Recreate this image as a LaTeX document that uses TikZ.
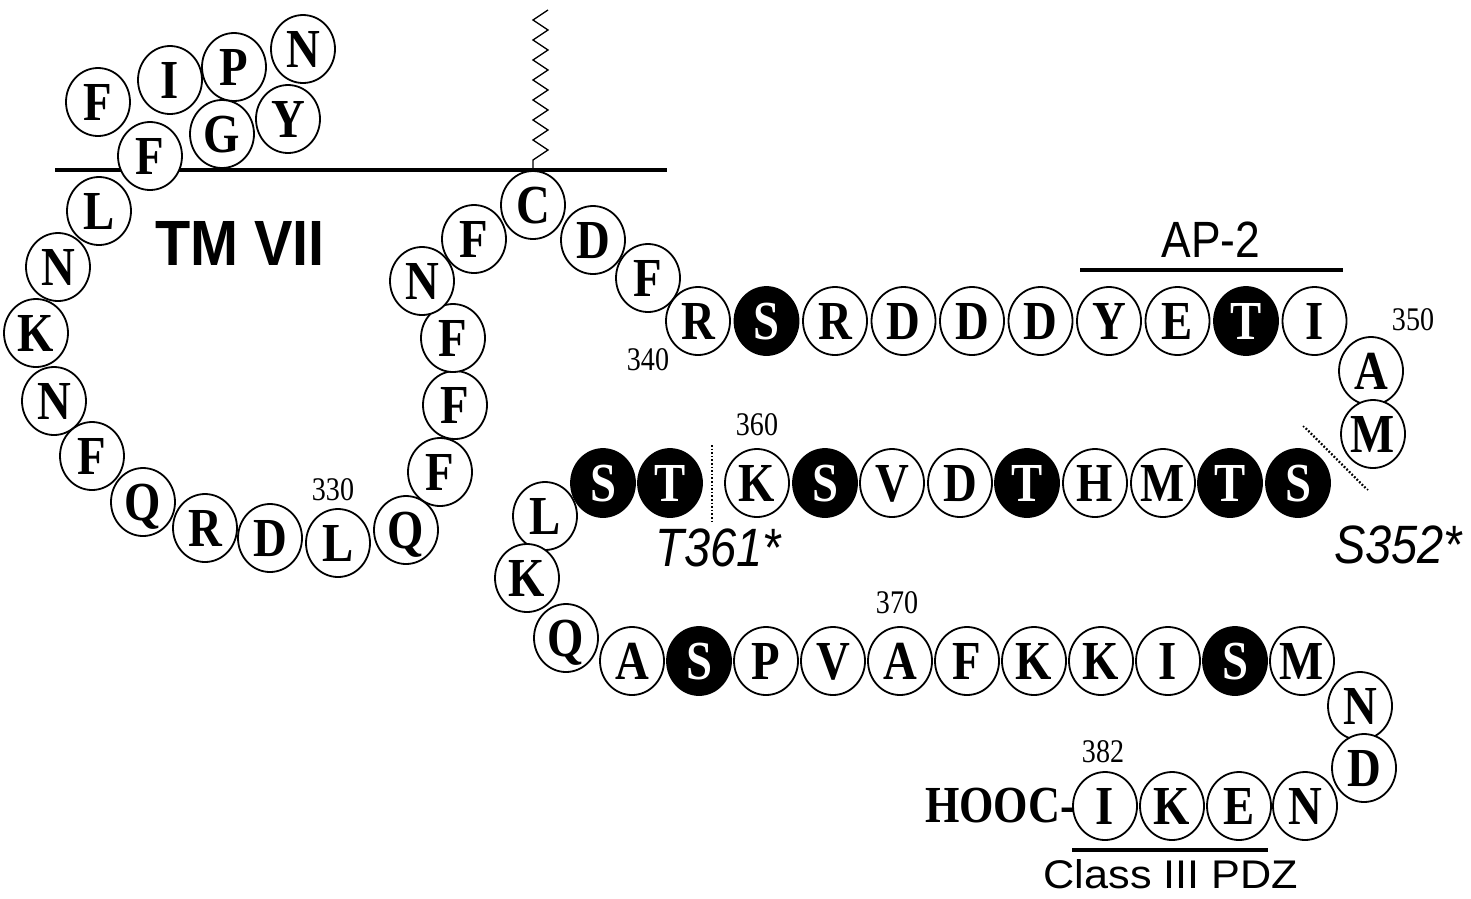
\documentclass[tikz,border=0pt]{standalone}
\usepackage{fontspec}
\usetikzlibrary{shapes.geometric}
\newfontfamily\aafont[FakeStretch=0.85]{Liberation Serif}
\newfontfamily\numfont[FakeStretch=0.85]{Liberation Serif}
\newfontfamily\labfont[FakeStretch=0.87]{Liberation Sans}
\newfontfamily\pdzfont[FakeStretch=1.08]{Liberation Sans}
\newfontfamily\tmfont[FakeStretch=0.9]{Liberation Sans}
\tikzset{
  aa/.style={ellipse, draw, line width=1.8pt, fill=white, minimum width=64pt, minimum height=68pt,
    inner sep=0pt, text height=36pt, text depth=0pt, font=\aafont\bfseries\fontsize{55}{55}\selectfont},
  ph/.style={aa, fill=black, text=white},
  num/.style={inner sep=0pt, font=\numfont\fontsize{33}{33}\selectfont},
  lab/.style={inner sep=0pt, font=\labfont\fontsize{51}{51}\selectfont},
  ilab/.style={lab, font=\labfont\itshape\fontsize{54}{54}\selectfont},
  bar/.style={line width=4pt},
  memb/.style={line width=3.5pt},
  dots/.style={line width=1.6pt, dotted},
}
\begin{document}
\begin{tikzpicture}[x=1pt,y=-1pt]
\useasboundingbox (0,0) rectangle (1471,898);
% membrane line
\coordinate (mA) at (55,170);
\coordinate (mB) at (667,170);
\draw[memb] (mA) -- (mB);
% top cluster
\node[aa] (f1) at (98,102) {F};
\node[aa] (i1) at (170,80) {I};
\node[aa] (p1) at (234,67) {P};
\node[aa] (n1) at (303,49) {N};
\node[aa] (y1) at (288,119) {Y};
\node[aa] (g1) at (222,134) {G};
\node[aa] (f2) at (150,156) {F};
% left loop
\node[aa] (l1) at (99,211) {L};
\node[aa] (n2) at (58,267) {N};
\node[aa] (k1) at (36,333) {K};
\node[aa] (n3) at (54,401) {N};
\node[aa] (f3) at (92,456) {F};
\node[aa] (q1) at (143,502) {Q};
\node[aa] (r1) at (205,528) {R};
\node[aa] (d1) at (270,538) {D};
\node[aa] (l2) at (338,543) {L};
\node[aa] (q2) at (406,530) {Q};
\node[aa] (f4) at (440,472) {F};
\node[aa] (f5) at (455,405) {F};
\node[aa] (f6) at (453,338) {F};
\node[aa] (n4) at (422,281) {N};
\node[aa] (f7) at (474,239) {F};
\node[aa] (c1) at (533,205) {C};
\node[aa] (d2) at (593,240) {D};
\node[aa] (f8) at (648,278) {F};
% palmitoylation zigzag
\draw[line width=1.3pt] (c1.north) -- (533,160)
  \foreach \i in {1,...,15}{ -- ({533+15*mod(\i,2)},{160-10*\i}) };
% row 1
\node[aa] (r2) at (698,321) {R};
\node[ph] (s1) at (766.5,321) {S};
\node[aa] (r3) at (835,321) {R};
\node[aa] (d3) at (903.5,321) {D};
\node[aa] (d4) at (972,321) {D};
\node[aa] (d5) at (1040.5,321) {D};
\node[aa] (y2) at (1109,321) {Y};
\node[aa] (e1) at (1177.5,321) {E};
\node[ph] (t1) at (1246,321) {T};
\node[aa] (i2) at (1314.5,321) {I};
\node[aa] (a1) at (1371,371) {A};
\node[aa] (m1) at (1373,434) {M};
% row 2
\node[ph] (s2) at (603,483) {S};
\node[ph] (t2) at (670,483) {T};
\node[aa] (k2) at (757,483) {K};
\node[ph] (s3) at (825,483) {S};
\node[aa] (v1) at (892,483) {V};
\node[aa] (d6) at (960,483) {D};
\node[ph] (t3) at (1027,483) {T};
\node[aa] (h1) at (1095,483) {H};
\node[aa] (m2) at (1163,483) {M};
\node[ph] (t4) at (1230,483) {T};
\node[ph] (s4) at (1298,483) {S};
% turn
\node[aa] (l3) at (545,516) {L};
\node[aa] (k3) at (527,578) {K};
\node[aa] (q3) at (566,638) {Q};
% row 3
\node[aa] (a2) at (632,661) {A};
\node[ph] (s5) at (699,661) {S};
\node[aa] (p2) at (766,661) {P};
\node[aa] (v2) at (833,661) {V};
\node[aa] (a3) at (900,661) {A};
\node[aa] (f9) at (967,661) {F};
\node[aa] (k4) at (1034,661) {K};
\node[aa] (k5) at (1101,661) {K};
\node[aa] (i3) at (1168,661) {I};
\node[ph] (s6) at (1235,661) {S};
\node[aa] (m3) at (1302,661) {M};
\node[aa] (n5) at (1360,706) {N};
\node[aa] (d7) at (1364,768) {D};
\node[aa] (n6) at (1305,806) {N};
\node[aa] (e2) at (1239,806) {E};
\node[aa] (k6) at (1172,806) {K};
\node[aa] (i4) at (1105,806) {I};
\node[anchor=east, inner sep=0pt, font=\aafont\bfseries\fontsize{52}{52}\selectfont] (hooc) at ([xshift=3pt]i4.west) {HOOC-};
% numbers
\node[num] (n330) at (333,490) {330};
\node[num] (n340) at (648,360) {340};
\node[num] (n350) at (1413,320) {350};
\node[num] (n360) at (757,425) {360};
\node[num] (n370) at (897,603) {370};
\node[num] (n382) at (1103,752) {382};
% labels
\node[inner sep=0pt, font=\tmfont\bfseries\fontsize{64}{64}\selectfont] (tm) at (240,243) {TM VII};
\node[lab] (ap2) at (1211,240) {AP-2};
\coordinate (apA) at (1080,270);
\coordinate (apB) at (1343,270);
\draw[bar] (apA) -- (apB);
\node[inner sep=0pt, anchor=base, font=\pdzfont\fontsize{40}{40}\selectfont] (pdz) at (1171,888) {Class III PDZ};
\coordinate (pdA) at (1072,850);
\coordinate (pdB) at (1268,850);
\draw[bar] (pdA) -- (pdB);
\node[ilab] (t361) at (718,548) {T361*};
\node[ilab] (s352) at (1398,545) {S352*};
% cleavage marks
\coordinate (vA) at (712,445);
\coordinate (vB) at (712,522);
\draw[dots] (vA) -- (vB);
\coordinate (dA) at (1303,426);
\coordinate (dB) at (1365,488);
\draw[dots] (dA) -- (dB);
\draw[dots] ([xshift=3pt,yshift=-2pt]dA) -- ([xshift=3pt,yshift=-2pt]dB);
\end{tikzpicture}
\end{document}
